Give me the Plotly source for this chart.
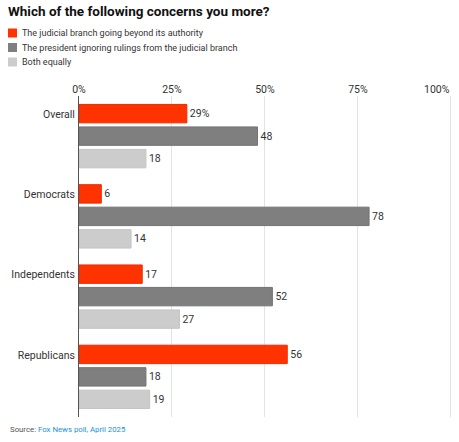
import plotly.graph_objects as go

groups = ["Overall", "Democrats", "Independents", "Republicans"]
series_names = [
    "The judicial branch going beyond its authority",
    "The president ignoring rulings from the judicial branch",
    "Both equally",
]
judicial = [29, 6, 17, 56]
president = [48, 78, 52, 18]
both = [18, 14, 27, 19]
tick_vals = [0, 25, 50, 75, 100]
tick_text = ["0%", "25%", "50%", "75%", "100%"]

colors = ["#ff3300", "#7f7f7f", "#cccccc"]
edges = ["#f02a00", "#737373", "#c4c4c4"]

W, H = 459, 442
L, R, T, B = 79, 7, 96, 25
PW, PH = W - L - R, H - T - B


def px_x(x):
    return (x - L) / PW


def px_y(y):
    return (H - B - y) / PH


fig = go.Figure()
for i, (name, vals) in enumerate(zip(series_names, [judicial, president, both])):
    # only the very first label carries the percent sign
    labels = [f"{v}%" if (i == 0 and j == 0) else str(v) for j, v in enumerate(vals)]
    fig.add_trace(
        go.Bar(
            name=name,
            y=groups,
            x=vals,
            orientation="h",
            marker=dict(color=colors[i], line=dict(color=edges[i], width=1)),
            text=labels,
            textposition="outside",
            textfont=dict(size=10.5, color="#333333"),
            cliponaxis=False,
            showlegend=False,
        )
    )

# legend drawn by hand: small squares plus labels, top left
shapes = []
annotations = []
for i, name in enumerate(series_names):
    yc = 33 + 14.5 * i
    shapes.append(
        dict(
            type="rect",
            xref="paper",
            yref="paper",
            x0=px_x(8),
            x1=px_x(17),
            y0=px_y(yc + 4.5),
            y1=px_y(yc - 4.5),
            fillcolor=colors[i],
            line=dict(width=0),
        )
    )
    annotations.append(
        dict(
            text=name,
            xref="paper",
            yref="paper",
            x=px_x(20),
            y=px_y(yc),
            xanchor="left",
            yanchor="middle",
            showarrow=False,
            font=dict(size=9, color="#333333"),
        )
    )

# the last tick label sits left of its gridline so it stays inside the page
annotations.append(
    dict(
        text=tick_text[-1],
        xref="x",
        yref="paper",
        x=tick_vals[-1],
        y=px_y(89.5),
        xanchor="right",
        yanchor="middle",
        xshift=1,
        showarrow=False,
        font=dict(size=10.5, color="#333333"),
    )
)

annotations.append(
    dict(
        text="Source: <span style='color:#1a8fe3'>Fox News poll, April 2025</span>",
        xref="paper",
        yref="paper",
        x=px_x(8),
        y=px_y(430),
        xanchor="left",
        yanchor="middle",
        showarrow=False,
        font=dict(size=7.8, color="#555555"),
    )
)

fig.update_layout(
    width=W,
    height=H,
    margin=dict(l=L, r=R, t=T, b=B, autoexpand=False),
    paper_bgcolor="white",
    plot_bgcolor="white",
    font=dict(family="Roboto", color="#333333", size=11),
    barmode="group",
    bargap=0.16,
    bargroupgap=0.18,
    showlegend=False,
    title=dict(
        text="<b>Which of the following concerns you more?</b>",
        x=8 / W,
        xanchor="left",
        y=1 - 11 / H,
        yanchor="middle",
        font=dict(size=13.5, color="#111111"),
    ),
    xaxis=dict(
        side="top",
        range=[0, 100.3],
        tickvals=tick_vals,
        ticktext=tick_text[:-1] + [""],
        showgrid=True,
        gridcolor="#e3e3e3",
        gridwidth=1,
        zeroline=False,
        ticks="",
        automargin=False,
        tickfont=dict(size=10.5, color="#333333"),
    ),
    yaxis=dict(
        autorange="reversed",
        showline=True,
        linecolor="#555555",
        linewidth=1,
        ticks="",
        automargin=False,
        ticklabelshift=22,
        ticklabelstandoff=1,
        tickfont=dict(size=10.5, color="#333333"),
    ),
    shapes=shapes,
    annotations=annotations,
)

# drop the browser's default body margin so the figure sits at the page corner
fig.write_html(
    "out.html",
    config={"displayModeBar": False},
    post_script="document.body.style.margin = '0';",
)
